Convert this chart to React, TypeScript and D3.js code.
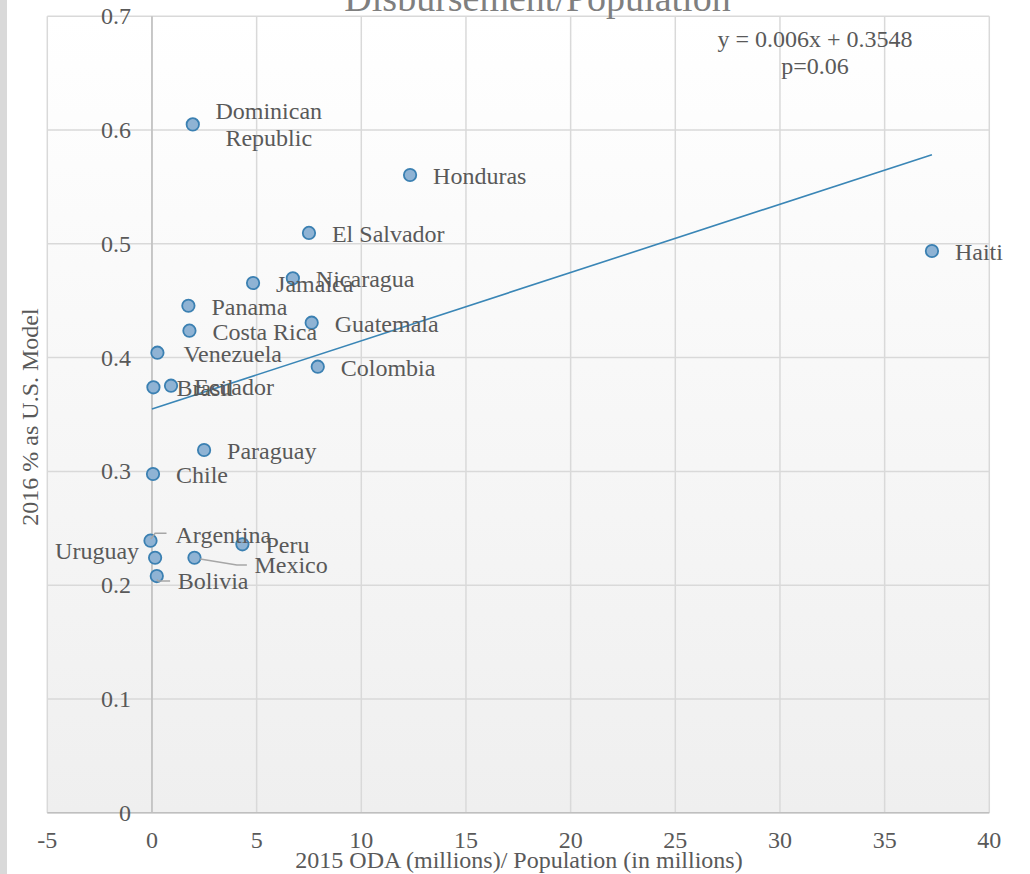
import React from "react";
import * as d3 from "d3";

// ---- data ----
const countries = [
  "Dominican Republic", "Honduras", "El Salvador", "Haiti", "Nicaragua",
  "Jamaica", "Panama", "Costa Rica", "Guatemala", "Venezuela",
  "Colombia", "Brasil", "Ecuador", "Paraguay", "Chile",
  "Argentina", "Peru", "Uruguay", "Mexico", "Bolivia",
];
const odaPerCapita = [
  1.95, 12.33, 7.5, 37.26, 6.73,
  4.83, 1.74, 1.79, 7.63, 0.26,
  7.92, 0.07, 0.91, 2.49, 0.05,
  -0.07, 4.32, 0.15, 2.03, 0.23,
];
const usModelShare = [
  0.605, 0.5605, 0.5096, 0.4937, 0.4697,
  0.4656, 0.4456, 0.4237, 0.4307, 0.4043,
  0.392, 0.3739, 0.3753, 0.3188, 0.2977,
  0.2391, 0.2359, 0.2241, 0.2241, 0.208,
];
const xTicks = [-5, 0, 5, 10, 15, 20, 25, 30, 35, 40];
const yTicks = [0, 0.1, 0.2, 0.3, 0.4, 0.5, 0.6, 0.7];
const trendSlope = 0.006;
const trendIntercept = 0.3548;
const title = "Disbursement/Population";
const xTitle = "2015 ODA (millions)/ Population (in millions)";
const yTitle = "2016 % as U.S. Model";
const equationText = "y = 0.006x + 0.3548";
const pValueText = "p=0.06";

// ---- label layout (pixel offsets from the point) ----
type Layout = {
  dx: number;
  dy: number;
  anchor?: "start" | "middle" | "end";
  split?: boolean;
  leader?: [number, number][];
};
const defaultLayout: Layout = { dx: 23, dy: 9 };
const labelLayout: Record<string, Layout> = {
  "Dominican Republic": { dx: 76, dy: -5, anchor: "middle", split: true },
  Venezuela: { dx: 26, dy: 9 },
  Argentina: { dx: 25, dy: 2, leader: [[0.3, -1.7], [4.6, -7.4], [16, -7.4]] },
  Mexico: { dx: 60, dy: 15.5, leader: [[5.7, 1.3], [42.4, 7.3], [52.4, 7.3]] },
  Bolivia: { dx: 21, dy: 13, leader: [[0, 3.5], [1.3, 5], [13.3, 5]] },
  Uruguay: { dx: -16, dy: 1, anchor: "end" },
};

const W = 1030;
const H = 874;
const FONT = "'Liberation Serif', 'Times New Roman', serif";
const TXT = "#595959";

export default function App() {
  const x = d3.scaleLinear().domain([-5, 40]).range([47.3, 989.3]);
  const y = d3.scaleLinear().domain([0, 0.7]).range([812.7, 16.3]);
  const [x0, x1] = x.range();
  const [yb, yt] = y.range();

  const xMin = d3.min(odaPerCapita) as number;
  const xMax = d3.max(odaPerCapita) as number;
  const trend = d3
    .line<number>()
    .x((d) => x(d))
    .y((d) => y(trendSlope * d + trendIntercept))([Math.max(0, xMin), xMax]);

  const leaderLine = d3.line<[number, number]>();

  return (
    <svg
      width={W}
      height={H}
      style={{ position: "absolute", left: 0, top: 0, background: "#fff" }}
      fontFamily={FONT}
    >
      <defs>
        <linearGradient id="plotBg" x1="0" y1="0" x2="0" y2="1">
          <stop offset="0" stopColor="#ffffff" />
          <stop offset="1" stopColor="#efefef" />
        </linearGradient>
      </defs>
      <rect x={0} y={0} width={7} height={H} fill="#d9d9d9" />
      <rect x={x0} y={yt} width={x1 - x0} height={yb - yt} fill="url(#plotBg)" />

      {/* gridlines */}
      {xTicks.map((t) => (
        <line key={"gx" + t} x1={x(t)} x2={x(t)} y1={yt} y2={yb} stroke="#d9d9d9" strokeWidth={1.5} />
      ))}
      {yTicks.map((t) => (
        <line key={"gy" + t} x1={x0} x2={x1} y1={y(t)} y2={y(t)} stroke="#d9d9d9" strokeWidth={1.5} />
      ))}
      {/* axes */}
      <line x1={x(0)} x2={x(0)} y1={yt} y2={yb} stroke="#bfbfbf" strokeWidth={1.5} />
      <line x1={x0} x2={x1} y1={y(0)} y2={y(0)} stroke="#bfbfbf" strokeWidth={1.5} />

      {/* tick labels */}
      {yTicks.map((t) => (
        <text key={"ty" + t} x={x(0) - 21} y={y(t) + 8} textAnchor="end" fontSize={24} fill={TXT}>
          {d3.format("~g")(t)}
        </text>
      ))}
      {xTicks.map((t) => (
        <text key={"tx" + t} x={x(t)} y={848} textAnchor="middle" fontSize={24} fill={TXT}>
          {t}
        </text>
      ))}

      {/* trendline */}
      <path d={trend || ""} fill="none" stroke="#3a86b6" strokeWidth={1.6} />

      {/* points */}
      {countries.map((c, i) => (
        <circle
          key={"p" + c}
          cx={x(odaPerCapita[i])}
          cy={y(usModelShare[i])}
          r={6.2}
          fill="#8fb3d4"
          stroke="#3b80b2"
          strokeWidth={1.8}
        />
      ))}

      {/* leaders */}
      {countries.map((c, i) => {
        const L = labelLayout[c];
        if (!L || !L.leader) return null;
        const px = x(odaPerCapita[i]);
        const py = y(usModelShare[i]);
        const pts = L.leader.map(([a, b]) => [px + a, py + b] as [number, number]);
        return <path key={"l" + c} d={leaderLine(pts) || ""} fill="none" stroke="#a6a6a6" strokeWidth={1.5} />;
      })}

      {/* data labels */}
      {countries.map((c, i) => {
        const L = labelLayout[c] || defaultLayout;
        const px = x(odaPerCapita[i]) + L.dx;
        const py = y(usModelShare[i]) + L.dy;
        const lines = L.split ? c.split(" ") : [c];
        return (
          <text key={"t" + c} x={px} y={py} textAnchor={L.anchor || "start"} fontSize={24} fill={TXT}>
            {lines.map((ln, k) => (
              <tspan key={k} x={px} dy={k === 0 ? 0 : 27}>
                {ln}
              </tspan>
            ))}
          </text>
        );
      })}

      {/* equation */}
      <text x={815} y={47} textAnchor="middle" fontSize={24} fill={TXT}>
        {equationText}
      </text>
      <text x={815} y={74} textAnchor="middle" fontSize={24} fill={TXT}>
        {pValueText}
      </text>

      {/* titles */}
      <text x={537.5} y={11} textAnchor="middle" fontSize={38} fill="#7f7f7f">
        {title}
      </text>
      <text x={519} y={868} textAnchor="middle" fontSize={24} fill={TXT}>
        {xTitle}
      </text>
      <text transform="translate(38,417) rotate(-90)" textAnchor="middle" fontSize={24} fill={TXT}>
        {yTitle}
      </text>
    </svg>
  );
}
